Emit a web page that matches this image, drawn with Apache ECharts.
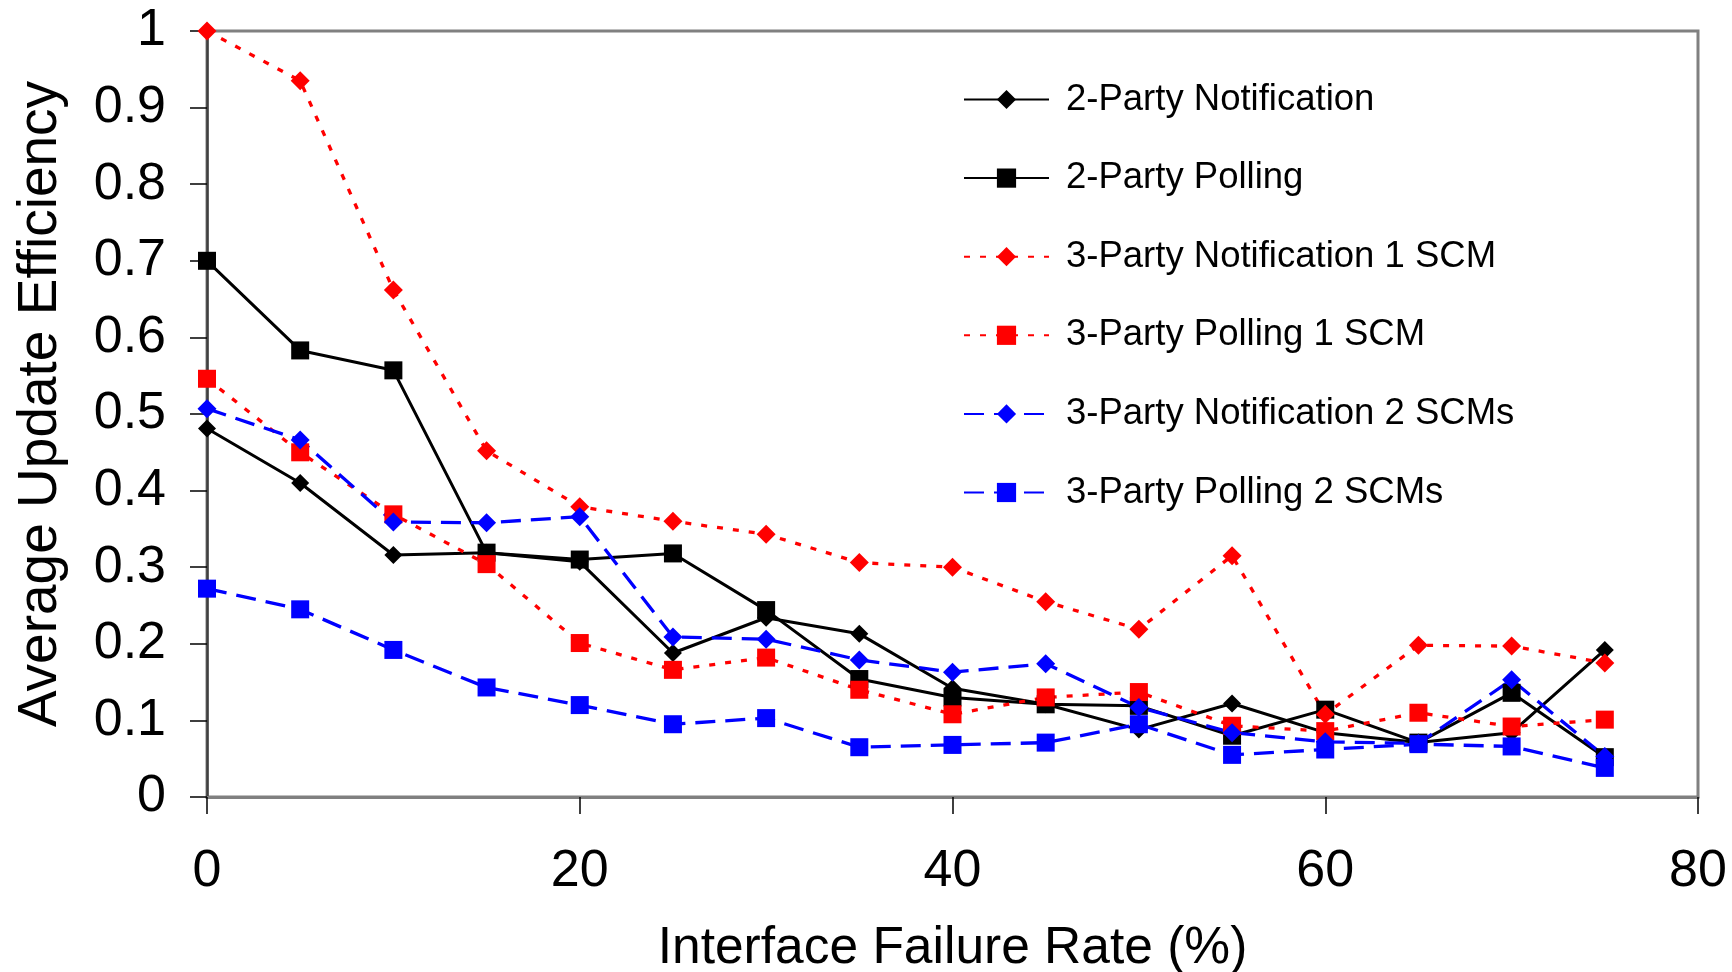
<!DOCTYPE html>
<html>
<head>
<meta charset="utf-8">
<script src="https://cdn.jsdelivr.net/npm/echarts@6/dist/echarts.min.js"></script>
<style>
html,body{margin:0;padding:0;background:#fff;}
#chart{width:1732px;height:972px;}
</style>
</head>
<body>
<div id="chart"></div>
<script>
var failureRates = [0, 5, 10, 15, 20, 25, 30, 35, 40, 45, 50, 55, 60, 65, 70, 75];
var twoPartyNotification = [0.481, 0.410, 0.316, 0.319, 0.307, 0.188, 0.234, 0.213, 0.142, 0.121, 0.088, 0.122, 0.084, 0.071, 0.084, 0.192];
var twoPartyPolling = [0.700, 0.583, 0.557, 0.319, 0.310, 0.318, 0.244, 0.154, 0.130, 0.121, 0.119, 0.080, 0.114, 0.071, 0.136, 0.052];
var threePartyNotification1 = [1.000, 0.935, 0.662, 0.452, 0.379, 0.360, 0.343, 0.306, 0.300, 0.255, 0.219, 0.315, 0.108, 0.198, 0.197, 0.175];
var threePartyPolling1 = [0.546, 0.450, 0.369, 0.304, 0.201, 0.166, 0.182, 0.140, 0.108, 0.130, 0.137, 0.093, 0.086, 0.110, 0.092, 0.101];
var threePartyNotification2 = [0.507, 0.466, 0.359, 0.358, 0.366, 0.209, 0.206, 0.179, 0.163, 0.174, 0.117, 0.084, 0.072, 0.070, 0.153, 0.053];
var threePartyPolling2 = [0.272, 0.245, 0.192, 0.143, 0.120, 0.095, 0.103, 0.065, 0.068, 0.071, 0.095, 0.055, 0.062, 0.069, 0.066, 0.038];
var seriesNames = ['2-Party Notification', '2-Party Polling', '3-Party Notification 1 SCM', '3-Party Polling 1 SCM', '3-Party Notification 2 SCMs', '3-Party Polling 2 SCMs'];
var xTicks = [0, 20, 40, 60, 80];

function pairs(vals) {
  return failureRates.map(function (x, i) { return [x, vals[i]]; });
}
var FONT = '"Liberation Sans", Arial, sans-serif';

function mk(name, vals, color, symbol, size, type, width) {
  return {
    name: name,
    type: 'line',
    data: pairs(vals),
    symbol: symbol,
    symbolSize: size,
    showSymbol: true,
    animation: false,
    itemStyle: { color: color, borderWidth: 0 },
    lineStyle: { color: color, width: width, type: type, cap: 'butt' },
    z: 3
  };
}

var chart = echarts.init(document.getElementById('chart'));
chart.setOption({
  backgroundColor: '#ffffff',
  animation: false,
  grid: {
    left: 207, right: 34, top: 31, bottom: 175,
    outerBoundsMode: 'none',
    containLabel: false,
    show: true, borderColor: '#808080', borderWidth: 3, backgroundColor: 'transparent'
  },
  legend: {
    orient: 'vertical',
    left: 958,
    top: 76,
    itemWidth: 85,
    itemHeight: 24,
    itemGap: 41.6,
    data: seriesNames,
    textStyle: { fontFamily: FONT, fontSize: 36.5, color: '#000', padding: [0, 0, 0, 12] }
  },
  xAxis: {
    type: 'value',
    min: 0, max: 80, interval: 20,
    name: 'Interface Failure Rate (%)',
    nameLocation: 'middle',
    nameGap: 126,
    nameTextStyle: { fontFamily: FONT, fontSize: 51.5, color: '#000' },
    axisLine: { show: true, onZero: false, lineStyle: { color: '#808080', width: 3 } },
    axisTick: { show: true, length: 17, inside: false, lineStyle: { color: '#000', width: 1.5 } },
    axisLabel: { fontFamily: FONT, fontSize: 52, color: '#000', margin: 49,
      formatter: function (v) { return xTicks.indexOf(v) >= 0 ? String(v) : ''; } },
    splitLine: { show: false }
  },
  yAxis: {
    type: 'value',
    min: 0, max: 1, interval: 0.1,
    name: 'Average Update Efficiency',
    nameLocation: 'middle',
    nameGap: 139,
    nameTextStyle: { fontFamily: FONT, fontSize: 55, color: '#000', padding: [0, 0, 0, 20] },
    axisLine: { show: true, onZero: false, lineStyle: { color: '#404040', width: 2.5 } },
    axisTick: { show: true, length: 17, lineStyle: { color: '#000', width: 1.5 } },
    axisLabel: { fontFamily: FONT, fontSize: 52, color: '#000', margin: 41,
      formatter: function (v) { return String(Math.round(v * 10) / 10); } },
    splitLine: { show: false }
  },
  series: [
    mk(seriesNames[0], twoPartyNotification, '#000000', 'diamond', 18, 'solid', 3),
    mk(seriesNames[1], twoPartyPolling, '#000000', 'rect', 18, 'solid', 3),
    mk(seriesNames[2], threePartyNotification1, '#ff0000', 'diamond', 19, [6, 10], 3.3),
    mk(seriesNames[3], threePartyPolling1, '#ff0000', 'rect', 18, [6, 10], 3.3),
    mk(seriesNames[4], threePartyNotification2, '#0000ff', 'diamond', 19, [20, 10], 3.3),
    mk(seriesNames[5], threePartyPolling2, '#0000ff', 'rect', 18, [20, 10], 3.3)
  ]
});
</script>
</body>
</html>
